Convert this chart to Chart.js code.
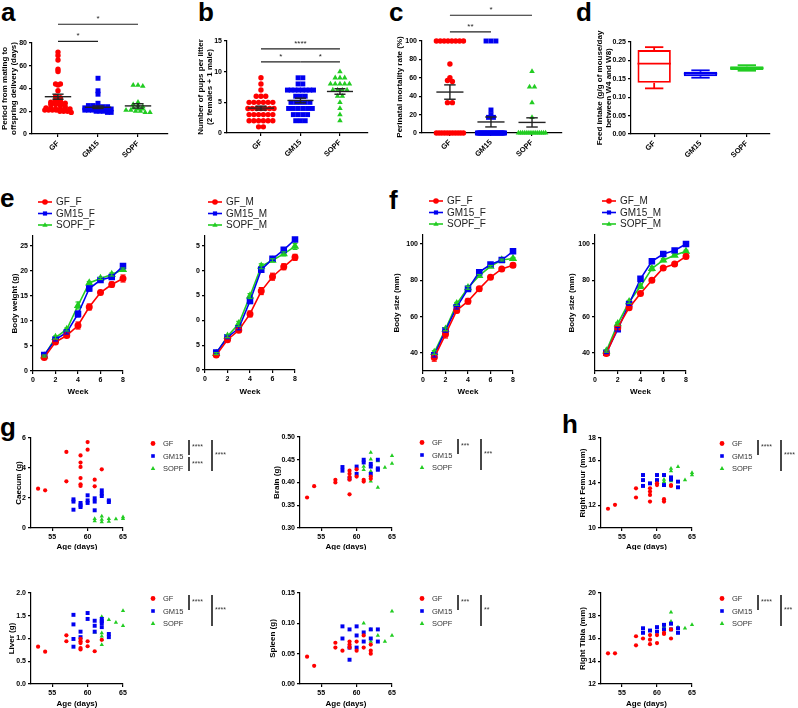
<!DOCTYPE html>
<html>
<head>
<meta charset="utf-8">
<script src="https://cdn.jsdelivr.net/npm/chart.js@4.4.1/dist/chart.umd.min.js"></script>
<style>
html, body { margin: 0; padding: 0; background: #fff; }
#fig { position: relative; width: 798px; height: 708px; overflow: hidden; font-family: "Liberation Sans", Arial, sans-serif; }
.lbl { position: absolute; font-weight: bold; font-size: 26px; line-height: 26px; color: #000; }
canvas { position: absolute; }
</style>
</head>
<body>
<div id="fig">
  <div class="lbl" style="left:1px;top:-1px">a</div>
  <div class="lbl" style="left:198px;top:-1px">b</div>
  <div class="lbl" style="left:389px;top:-1px">c</div>
  <div class="lbl" style="left:576px;top:-1px">d</div>
  <div class="lbl" style="left:0px;top:185px">e</div>
  <div class="lbl" style="left:389px;top:187px">f</div>
  <div class="lbl" style="left:0px;top:414px">g</div>
  <div class="lbl" style="left:562px;top:411px">h</div>
</div>
<script>
// ================= DATA =================
const groups = ["GF", "GM15", "SOPF"];

// a - period from mating to delivery (days)
const periodGF = [72,69,65,57,55,44,44,43,38,33,32,30,29,28,28,27,27,26,26,25,24,23,23,22,22,22,22,21,21,21,21,20,20,20,19];
const periodGM15 = [49,38,35,27,25,25,24,24,24,23,23,23,22,22,22,22,21,21,21,20,20,20,19,19];
const periodSOPF = [43,43,42,28,26,25,24,23,22,22,21,21,20,20,19,19];
const periodMean = [32.8, 23.5, 24.7];
const periodSem = [2.2, 1.1, 1.9];
const periodTicks = [0, 20, 40, 60, 80];

// b - pups per litter
const pupsGF = [9,8,7,6,6,6,5,5,5,5,5,5,4,4,4,4,4,4,4,3,3,3,3,3,3,2,2,2,2,2,2,1,1];
const pupsGM15 = [9,9,8,8,7,7,7,7,7,7,7,7,6,6,6,5,5,5,5,5,4,4,4,4,4,4,3,3,3,3,2,2,2];
const pupsSOPF = [10,9,9,9,8,8,8,8,8,7,7,7,7,6,6,5,4,3,2];
const pupsMean = [4.06, 5.3, 6.77];
const pupsSem = [0.32, 0.38, 0.45];
const pupsTicks = [0, 5, 10, 15];

// c - perinatal mortality rate (%)
const mortGF = [100,100,100,100,100,100,100,100,75,60,57,56,33,33,0,0,0,0,0,0,0,0,0,0,0];
const mortGM15 = [100,100,100,25,20,17,17,0,0,0,0,0,0,0,0,0,0,0,0,0,0,0,0,0,0,0,0,0,0,0,0];
const mortSOPF = [67,50,50,33,17,0,0,0,0,0,0,0,0,0,0,0,0,0,0];
const mortMean = [44.5, 12.0, 11.5];
const mortSem = [7.8, 5.4, 5.0];
const mortTicks = [0, 20, 40, 60, 80, 100];

// d - feed intake box plot
const feedMin = [0.124, 0.153, 0.172];
const feedQ1 = [0.139, 0.157, 0.174];
const feedMedian = [0.191, 0.164, 0.179];
const feedQ3 = [0.228, 0.169, 0.184];
const feedMax = [0.236, 0.173, 0.187];
const feedTicks = [0, 0.05, 0.10, 0.15, 0.20, 0.25];

// e / f - growth curves
const weeks = [1, 2, 3, 4, 5, 6, 7, 8];
const weekTicks = [0, 2, 4, 6, 8];
const bwGF_F = [2.7, 5.8, 7.1, 9.1, 12.8, 15.7, 17.3, 18.5];
const bwGM15_F = [3.2, 6.3, 7.7, 11.4, 16.5, 18.2, 18.8, 21.0];
const bwSOPF_F = [3.0, 6.7, 8.3, 13.1, 17.6, 18.5, 19.3, 20.3];
const bwGF_M = [3.0, 6.1, 8.0, 11.3, 15.9, 18.8, 20.8, 22.7];
const bwGM15_M = [3.5, 6.6, 8.4, 13.9, 20.2, 22.4, 24.2, 26.3];
const bwSOPF_M = [3.3, 6.8, 9.3, 14.9, 20.9, 22.1, 23.4, 24.9];
const semBwF = [[0.3,0.3,0.3,0.7,0.6,0.4,0.5,0.7],[0.2,0.3,0.3,0.6,0.5,0.3,0.3,0.4],[0.2,0.3,0.3,0.7,0.3,0.2,0.3,0.3]];
const semBwM = [[0.3,0.3,0.4,0.6,0.7,0.7,0.6,0.6],[0.2,0.3,0.3,0.5,0.4,0.3,0.3,0.3],[0.2,0.3,0.5,0.5,0.5,0.3,0.4,0.6]];
const bwTicks = [0, 5, 10, 15, 20, 25];

const bsGF_F = [37.4, 50.2, 63.4, 68.5, 75.3, 81.7, 86.3, 88.3];
const bsGM15_F = [38.7, 52.4, 65.2, 75.3, 84.5, 88.7, 91.2, 96.0];
const bsSOPF_F = [40.2, 53.0, 67.0, 75.9, 82.6, 87.7, 91.2, 92.0];
const bsGF_M = [39.6, 53.9, 64.9, 72.7, 80.0, 86.8, 89.0, 93.2];
const bsGM15_M = [40.1, 53.0, 67.0, 80.8, 90.5, 94.5, 96.5, 100.0];
const bsSOPF_M = [41.0, 56.0, 68.1, 76.7, 86.5, 91.1, 93.8, 96.0];
const semBsF = [[2,2,1.2,1.5,1.3,1,0.6,1.2],[1,1,1,1.2,0.8,0.6,0.6,0.6],[1,0.8,0.8,0.8,0.6,0.5,0.5,0.6]];
const semBsM = [[0.8,1,1,1,1,0.6,0.6,1.2],[0.5,1,0.8,0.8,0.6,0.5,0.5,0.5],[0.6,0.8,0.8,1.2,1.2,0.8,0.6,0.6]];
const bsTicks = [40, 60, 80, 100];

// g / h - organs vs age [age (days), value]
const ageTicks = [55, 60, 65];
const caecumGF = [[53,2.62],[54,2.51],[57,5.07],[57,3.11],[59,4.84],[59,4.36],[59,4.07],[59,3.33],[59,2.91],[59,2.80],[60,5.73],[60,5.22],[61,3.22],[61,2.78],[62,3.91]];
const caecumGM15 = [[58,1.91],[58,1.76],[58,1.22],[59,1.67],[59,1.51],[59,1.40],[60,2.18],[60,1.84],[60,1.67],[61,1.98],[61,1.76],[61,1.18],[62,2.51],[62,2.29],[62,2.13],[63,1.84],[63,1.73]];
const caecumSOPF = [[61,0.62],[61,0.47],[62,0.78],[62,0.56],[62,0.40],[63,0.62],[63,0.44],[64,0.60],[65,0.73],[65,0.62]];
const caecumTicks = [0, 2, 4, 6];

const brainGF = [[53,0.367],[54,0.392],[57,0.406],[57,0.400],[59,0.426],[59,0.419],[59,0.412],[59,0.406],[59,0.374],[60,0.429],[60,0.413],[61,0.406],[61,0.402],[62,0.413],[62,0.408]];
const brainGM15 = [[58,0.434],[58,0.426],[59,0.409],[60,0.435],[60,0.419],[61,0.450],[61,0.444],[62,0.441],[62,0.435],[62,0.419],[63,0.450],[63,0.431],[63,0.428]];
const brainSOPF = [[61,0.435],[61,0.428],[62,0.466],[62,0.451],[62,0.425],[62,0.403],[63,0.447],[63,0.389],[64,0.433],[65,0.459],[65,0.442]];
const brainTicks = [0.30, 0.35, 0.40, 0.45, 0.50];

const femurGF = [[53,11.71],[54,12.06],[57,13.53],[57,12.71],[59,13.53],[59,13.24],[59,12.94],[59,12.35],[60,13.97],[60,13.82],[61,12.56],[61,12.35],[62,13.82],[62,13.74]];
const femurGM15 = [[58,14.71],[58,14.26],[58,13.74],[59,13.97],[60,14.71],[60,14.26],[61,14.71],[61,13.82],[62,14.50],[62,14.32],[63,14.12],[63,13.62]];
const femurSOPF = [[61,14.32],[61,14.12],[62,15.30],[62,15.06],[62,14.18],[63,15.44],[64,14.26],[65,14.91],[65,14.71]];
const femurTicks = [10, 12, 14, 16, 18];

const liverGF = [[53,0.82],[54,0.71],[57,1.07],[57,0.94],[59,0.99],[59,0.94],[59,0.90],[59,0.79],[59,0.76],[60,0.94],[60,0.83],[61,0.72],[62,0.97]];
const liverGM15 = [[58,1.52],[58,1.31],[58,0.99],[58,0.82],[59,1.15],[59,1.03],[60,1.56],[60,1.43],[61,1.39],[61,1.28],[61,1.15],[62,1.43],[62,1.38],[62,1.34],[62,1.25],[63,1.10],[63,1.03]];
const liverSOPF = [[61,1.14],[62,1.48],[62,1.12],[62,1.05],[62,0.97],[62,0.86],[63,1.41],[64,1.35],[65,1.61],[65,1.28]];
const liverTicks = [0, 0.5, 1.0, 1.5, 2.0];

const spleenGF = [[53,0.045],[54,0.030],[57,0.060],[57,0.068],[58,0.055],[59,0.070],[59,0.065],[59,0.060],[60,0.070],[60,0.055],[61,0.080],[61,0.060],[62,0.065],[62,0.050],[62,0.055]];
const spleenGM15 = [[58,0.095],[58,0.075],[59,0.090],[59,0.060],[59,0.040],[60,0.095],[60,0.080],[60,0.060],[61,0.085],[61,0.070],[62,0.090],[62,0.075],[63,0.090],[63,0.070]];
const spleenSOPF = [[61,0.100],[62,0.090],[62,0.070],[63,0.080],[64,0.070],[65,0.120],[65,0.080]];
const spleenTicks = [0, 0.05, 0.10, 0.15];

const tibiaGF = [[53,14.7],[54,14.7],[57,15.4],[57,16.2],[58,16.0],[59,16.3],[59,15.9],[59,15.5],[60,16.3],[60,15.6],[61,16.5],[61,16.4],[62,16.8],[62,16.0]];
const tibiaGM15 = [[58,16.9],[58,16.5],[59,16.7],[60,17.0],[60,16.6],[61,17.2],[61,16.8],[62,17.3],[62,16.8],[63,16.9],[63,16.5]];
const tibiaSOPF = [[61,17.0],[62,18.3],[62,17.5],[63,17.0],[64,16.9],[65,17.2]];
const tibiaTicks = [12, 14, 16, 18, 20];

// ================= STYLE =================
const FONT = '"Liberation Sans", Arial, sans-serif';
const TITLE_SIZE = 8;
const TICK_FONT = { family: FONT, size: 7, weight: "bold" };
const TITLE_FONT = { family: FONT, size: TITLE_SIZE, weight: "bold", lineHeight: 1.1 };
const RED = "#ff0000", BLUE = "#0000f0", GREEN = "#22cc22";
const COLORS = [RED, BLUE, GREEN];
const SHAPES = ["circle", "rect", "triangle"];
const fig = document.getElementById("fig");

Chart.defaults.font.family = FONT;
Chart.defaults.color = "#000";

// ================= HELPERS =================
function axis(min, max, ticks, title, fmt, extra) {
    return Object.assign({
        type: "linear", min, max,
        afterBuildTicks: s => { s.ticks = ticks.map(v => ({ value: v })); },
        ticks: { font: TICK_FONT, color: "#000", padding: 2, autoSkip: false,
                 callback: v => fmt ? fmt(v) : v },
        grid: { drawOnChartArea: false, tickLength: 3, color: "#000", lineWidth: 1.2 },
        border: { color: "#000", width: 1.2 },
        title: title ? { display: true, text: title, font: TITLE_FONT, color: "#000", padding: 0 } : { display: false }
    }, extra || {});
}

function catAxis(min, max) {
    return axis(min, max, [0, 1, 2], null, v => groups[v], {
        ticks: { font: { family: FONT, size: 7.5, weight: "bold" }, color: "#000", padding: 2,
                 minRotation: 45, maxRotation: 45, autoSkip: false, callback: v => groups[v] }
    });
}

function marker(ctx, shape, x, y, r, color) {
    ctx.fillStyle = color;
    ctx.beginPath();
    if (shape === "circle") ctx.arc(x, y, r, 0, Math.PI * 2);
    else if (shape === "rect") ctx.rect(x - r * 0.75, y - r * 0.75, r * 1.5, r * 1.5);
    else { ctx.moveTo(x, y - r); ctx.lineTo(x + r * 0.95, y + r * 0.6); ctx.lineTo(x - r * 0.95, y + r * 0.6); ctx.closePath(); }
    ctx.fill();
}

function seg(ctx, x1, y1, x2, y2) {
    ctx.beginPath(); ctx.moveTo(x1, y1); ctx.lineTo(x2, y2); ctx.stroke();
}

// spread points of a dot plot sideways, row by row
function swarm(vals, cat, bin, step, maxHalf) {
    const rows = {};
    vals.forEach(v => { const k = Math.round(v / bin); (rows[k] = rows[k] || []).push(v); });
    const pts = [];
    Object.values(rows).forEach(r => {
        const n = r.length;
        const dx = n > 1 ? Math.min(step, 2 * maxHalf / (n - 1)) : 0;
        r.forEach((v, i) => pts.push({ x: cat + (i - (n - 1) / 2) * dx, y: v }));
    });
    return pts;
}

function dotSets(lists, bin, step) {
    return lists.map((vals, i) => ({
        data: swarm(vals, i, bin, step, 0.33), clip: false,
        pointStyle: SHAPES[i], pointRadius: [2.7, 3.5, 3.2][i],
        backgroundColor: COLORS[i], borderColor: COLORS[i], borderWidth: 0
    }));
}

function pairSets(lists) {
    return lists.map((pts, i) => ({
        data: pts.map(p => ({ x: p[0], y: p[1] })), clip: false,
        pointStyle: SHAPES[i], pointRadius: [2.1, 2.8, 2.5][i],
        backgroundColor: COLORS[i], borderColor: COLORS[i], borderWidth: 0
    }));
}

function lineSets(lists, suffix) {
    return lists.map((vals, i) => ({
        label: groups[i] + suffix,
        data: vals.map((v, j) => ({ x: weeks[j], y: v })), clip: false,
        showLine: true, borderWidth: 1.6,
        pointStyle: SHAPES[i], pointRadius: [2.7, 3.5, 3.2][i],
        backgroundColor: COLORS[i], borderColor: COLORS[i]
    }));
}

// ================= PLUGINS =================
function meanSem(means, sems) {
    return { id: "meanSem", afterDatasetsDraw(chart) {
        const { ctx, scales: { x, y } } = chart;
        ctx.save(); ctx.strokeStyle = "#222"; ctx.lineWidth = 1.4;
        means.forEach((m, i) => {
            const cx = x.getPixelForValue(i);
            const l = x.getPixelForValue(i - 0.33), r = x.getPixelForValue(i + 0.33);
            const cl = x.getPixelForValue(i - 0.14), cr = x.getPixelForValue(i + 0.14);
            const ym = y.getPixelForValue(m), yt = y.getPixelForValue(m + sems[i]), yb = y.getPixelForValue(m - sems[i]);
            seg(ctx, l, ym, r, ym);
            seg(ctx, cx, yt, cx, yb);
            seg(ctx, cl, yt, cr, yt);
            seg(ctx, cl, yb, cr, yb);
        });
        ctx.restore();
    }};
}

function sigBars(bars) {
    return { id: "sigBars", afterDraw(chart) {
        const { ctx, scales: { x, y } } = chart;
        ctx.save(); ctx.strokeStyle = "#222"; ctx.fillStyle = "#222"; ctx.lineWidth = 1.2;
        ctx.font = "8px " + FONT; ctx.textAlign = "center"; ctx.textBaseline = "bottom";
        bars.forEach(b => {
            const yy = y.getPixelForValue(b.y), x1 = x.getPixelForValue(b.from), x2 = x.getPixelForValue(b.to);
            seg(ctx, x1, yy, x2, yy);
            ctx.fillText(b.label, (x1 + x2) / 2, yy - 1);
        });
        ctx.restore();
    }};
}

function boxWhiskers() {
    return { id: "boxWhiskers", afterDatasetsDraw(chart) {
        const { ctx, scales: { y } } = chart;
        ctx.save(); ctx.lineWidth = 1.8;
        chart.getDatasetMeta(0).data.forEach((bar, i) => {
            const x = bar.x, hw = bar.width / 2, cap = hw * 0.55;
            ctx.strokeStyle = COLORS[i];
            const ymed = y.getPixelForValue(feedMedian[i]);
            seg(ctx, x - hw, ymed, x + hw, ymed);
            const ytop = y.getPixelForValue(feedMax[i]), yq3 = y.getPixelForValue(feedQ3[i]);
            const ybot = y.getPixelForValue(feedMin[i]), yq1 = y.getPixelForValue(feedQ1[i]);
            seg(ctx, x, yq3, x, ytop); seg(ctx, x - cap, ytop, x + cap, ytop);
            seg(ctx, x, yq1, x, ybot); seg(ctx, x - cap, ybot, x + cap, ybot);
        });
        ctx.restore();
    }};
}

function errorBars(sems) {
    return { id: "errorBars", afterDatasetsDraw(chart) {
        const { ctx, scales: { x, y } } = chart;
        ctx.save(); ctx.lineWidth = 1.2;
        chart.data.datasets.forEach((ds, i) => {
            ctx.strokeStyle = COLORS[i];
            ds.data.forEach((p, j) => {
                const px = x.getPixelForValue(p.x);
                const yt = y.getPixelForValue(p.y + sems[i][j]), yb = y.getPixelForValue(p.y - sems[i][j]);
                seg(ctx, px, yt, px, yb);
                seg(ctx, px - 2.5, yt, px + 2.5, yt);
                seg(ctx, px - 2.5, yb, px + 2.5, yb);
            });
        });
        ctx.restore();
    }};
}

function lineLegend(dx) {
    return { id: "lineLegend", afterDraw(chart) {
        const { ctx, chartArea: a } = chart;
        ctx.save(); ctx.lineWidth = 1.6;
        ctx.font = "10px " + FONT; ctx.textBaseline = "middle"; ctx.textAlign = "left";
        chart.data.datasets.forEach((ds, i) => {
            const y = a.top - 34 + i * 11.5, x = a.left + dx;
            ctx.strokeStyle = COLORS[i];
            seg(ctx, x, y, x + 14, y);
            marker(ctx, SHAPES[i], x + 7, y, 2.8, COLORS[i]);
            ctx.fillStyle = "#222";
            ctx.fillText(ds.label, x + 18, y + 0.5);
        });
        ctx.restore();
    }};
}

// short = [{from, to, label}], long = label of GF vs SOPF
function organLegend(short, long) {
    return { id: "organLegend", afterDraw(chart) {
        const { ctx, chartArea: a } = chart;
        const rowY = i => a.top + 5.5 + i * 12.5;
        ctx.save();
        ctx.font = "7.5px " + FONT; ctx.textBaseline = "middle"; ctx.textAlign = "left";
        groups.forEach((g, i) => {
            marker(ctx, SHAPES[i], a.right + 30, rowY(i), 2.4, COLORS[i]);
            ctx.fillStyle = "#333";
            ctx.fillText(g, a.right + 40, rowY(i) + 0.5);
        });
        ctx.strokeStyle = "#333"; ctx.fillStyle = "#333"; ctx.lineWidth = 1.8;
        ctx.font = "7px " + FONT;
        const top = i => i === 0 ? rowY(0) - 3.5 : rowY(i) + 1;
        const bot = i => i === 2 ? rowY(2) + 2.5 : rowY(i) - 1;
        short.forEach(s => {
            const y1 = top(s.from), y2 = bot(s.to), x = a.right + 66;
            seg(ctx, x, y1, x, y2);
            ctx.fillText(s.label, x + 3, (y1 + y2) / 2);
        });
        const y1 = top(0), y2 = bot(2), x = a.right + 89;
        seg(ctx, x, y1, x, y2);
        ctx.fillText(long, x + 3, (y1 + y2) / 2);
        ctx.restore();
    }};
}

// ================= PANEL =================
// box = canvas rect on the page, area = wanted chart area (page coords)
function panel(box, area, cfg) {
    const canvas = document.createElement("canvas");
    canvas.width = box.w; canvas.height = box.h;
    canvas.style.left = box.x + "px"; canvas.style.top = box.y + "px";
    fig.appendChild(canvas);

    const lh = TITLE_SIZE * 1.1;
    const padLeft = cfg.titleX - lh / 2 - box.x;
    const yW = area.l - box.x - padLeft;
    const xH = cfg.xTitleY ? cfg.xTitleY - area.b + lh / 2 : 36;

    cfg.scales.y.afterFit = s => { s.width = yW; };
    cfg.scales.x.afterFit = s => { s.height = xH; };

    return new Chart(canvas, {
        type: cfg.type || "scatter",
        data: { labels: cfg.labels, datasets: cfg.datasets },
        options: {
            responsive: false, animation: false, devicePixelRatio: 1,
            layout: { padding: {
                left: padLeft, top: area.t - box.y,
                right: box.x + box.w - area.r, bottom: box.y + box.h - area.b - xH
            } },
            plugins: { legend: { display: false }, tooltip: { enabled: false } },
            scales: cfg.scales
        },
        plugins: cfg.plugins || []
    });
}

// ================= TOP ROW =================
panel({ x: 0, y: 0, w: 196, h: 190 }, { l: 32, t: 43, r: 168, b: 134 }, {
    titleX: 5,
    datasets: dotSets([periodGF, periodGM15, periodSOPF], 2.5, 0.12),
    scales: {
        x: catAxis(-0.65, 2.75),
        y: axis(0, 80, periodTicks, ["Period from mating to", "offspring delivery (days)"])
    },
    plugins: [meanSem(periodMean, periodSem),
              sigBars([{ from: 0, to: 2, y: 96.5, label: "*" }, { from: 0, to: 1, y: 81.5, label: "*" }])]
});

panel({ x: 196, y: 0, w: 196, h: 190 }, { l: 227, t: 41, r: 368, b: 133 }, {
    titleX: 201,
    datasets: dotSets([pupsGF, pupsGM15, pupsSOPF], 1, 0.12),
    scales: {
        x: catAxis(-0.86, 2.71),
        y: axis(0, 15, pupsTicks, ["Number of pups per litter", "(2 females + 1 male)"])
    },
    plugins: [meanSem(pupsMean, pupsSem),
              sigBars([{ from: 0, to: 2, y: 13.7, label: "****" }, { from: 0, to: 1, y: 11.6, label: "*" },
                       { from: 1, to: 2, y: 11.6, label: "*" }])]
});

panel({ x: 392, y: 0, w: 198, h: 190 }, { l: 422, t: 41, r: 562, b: 133 }, {
    titleX: 400,
    datasets: dotSets([mortGF, mortGM15, mortSOPF], 4, 0.12),
    scales: {
        x: catAxis(-0.68, 2.73),
        y: axis(0, 100, mortTicks, "Perinatal mortality rate (%)")
    },
    plugins: [meanSem(mortMean, mortSem),
              sigBars([{ from: 0, to: 2, y: 128, label: "*" }, { from: 0, to: 1, y: 110, label: "**" }])]
});

panel({ x: 590, y: 0, w: 208, h: 190 }, { l: 631, t: 42, r: 770, b: 134 }, {
    type: "bar", titleX: 600, labels: groups,
    datasets: [{
        data: feedQ1.map((q, i) => [q, feedQ3[i]]),
        backgroundColor: "rgba(255,255,255,0)", borderColor: COLORS,
        borderWidth: 1.8, borderSkipped: false
    }],
    scales: {
        x: {
            type: "category",
            ticks: { font: { family: FONT, size: 7.5, weight: "bold" }, color: "#000", padding: 2,
                     minRotation: 45, maxRotation: 45, autoSkip: false },
            grid: { drawOnChartArea: false, offset: false, tickLength: 3, color: "#000", lineWidth: 1.2 },
            border: { color: "#000", width: 1.2 }
        },
        y: axis(0, 0.25, feedTicks, ["Feed intake (g/g of mouse/day", "between W4 and W8)"], v => v.toFixed(2))
    },
    plugins: [boxWhiskers()]
});

// ================= GROWTH (e, f) =================
const weekAxis = () => axis(0, 8, weekTicks, "Week");

panel({ x: 0, y: 195, w: 196, h: 205 }, { l: 33, t: 236, r: 123, b: 371 }, {
    titleX: 15, xTitleY: 392,
    datasets: lineSets([bwGF_F, bwGM15_F, bwSOPF_F], "_F"),
    scales: { x: weekAxis(), y: axis(0, 27, bwTicks, "Body weight (g)") },
    plugins: [errorBars(semBwF), lineLegend(5)]
});

panel({ x: 196, y: 195, w: 194, h: 205 }, { l: 205, t: 236, r: 295, b: 370 }, {
    titleX: 185, xTitleY: 392,
    datasets: lineSets([bwGF_M, bwGM15_M, bwSOPF_M], "_M"),
    scales: { x: weekAxis(), y: axis(0, 27, bwTicks, "Body weight (g)") },
    plugins: [errorBars(semBwM), lineLegend(3)]
});

panel({ x: 390, y: 195, w: 176, h: 205 }, { l: 423, t: 235, r: 513, b: 371 }, {
    titleX: 397, xTitleY: 392,
    datasets: lineSets([bsGF_F, bsGM15_F, bsSOPF_F], "_F"),
    scales: { x: weekAxis(), y: axis(30, 105, bsTicks, "Body size (mm)") },
    plugins: [errorBars(semBsF), lineLegend(6)]
});

panel({ x: 566, y: 195, w: 232, h: 205 }, { l: 595, t: 235, r: 686, b: 371 }, {
    titleX: 572, xTitleY: 392,
    datasets: lineSets([bsGF_M, bsGM15_M, bsSOPF_M], "_M"),
    scales: { x: weekAxis(), y: axis(30, 105, bsTicks, "Body size (mm)") },
    plugins: [errorBars(semBsM), lineLegend(7)]
});

// ================= ORGANS (g, h) =================
const ageAxis = () => axis(52, 65, ageTicks, "Age (days)");
const fix1 = v => v.toFixed(1), fix2 = v => v.toFixed(2);

panel({ x: 0, y: 400, w: 262, h: 150 }, { l: 31, t: 438, r: 123, b: 528 }, {
    titleX: 19, xTitleY: 547,
    datasets: pairSets([caecumGF, caecumGM15, caecumSOPF]),
    scales: { x: ageAxis(), y: axis(0, 6, caecumTicks, "Caecum (g)") },
    plugins: [organLegend([{ from: 0, to: 1, label: "****" }, { from: 1, to: 2, label: "****" }], "****")]
});

panel({ x: 262, y: 400, w: 268, h: 150 }, { l: 300, t: 437, r: 392, b: 528 }, {
    titleX: 277, xTitleY: 547,
    datasets: pairSets([brainGF, brainGM15, brainSOPF]),
    scales: { x: ageAxis(), y: axis(0.30, 0.50, brainTicks, "Brain (g)", fix2) },
    plugins: [organLegend([{ from: 0, to: 1, label: "***" }], "***")]
});

panel({ x: 530, y: 400, w: 268, h: 150 }, { l: 601, t: 438, r: 692, b: 528 }, {
    titleX: 583, xTitleY: 547,
    datasets: pairSets([femurGF, femurGM15, femurSOPF]),
    scales: { x: ageAxis(), y: axis(10, 18, femurTicks, "Right Femur (mm)") },
    plugins: [organLegend([{ from: 0, to: 1, label: "****" }], "****")]
});

panel({ x: 0, y: 550, w: 262, h: 158 }, { l: 31, t: 593, r: 123, b: 684 }, {
    titleX: 12, xTitleY: 704,
    datasets: pairSets([liverGF, liverGM15, liverSOPF]),
    scales: { x: ageAxis(), y: axis(0, 2, liverTicks, "Liver (g)", fix1) },
    plugins: [organLegend([{ from: 0, to: 1, label: "****" }], "****")]
});

panel({ x: 262, y: 550, w: 268, h: 158 }, { l: 300, t: 593, r: 392, b: 684 }, {
    titleX: 273, xTitleY: 704,
    datasets: pairSets([spleenGF, spleenGM15, spleenSOPF]),
    scales: { x: ageAxis(), y: axis(0, 0.15, spleenTicks, "Spleen (g)", fix2) },
    plugins: [organLegend([{ from: 0, to: 1, label: "***" }], "**")]
});

panel({ x: 530, y: 550, w: 268, h: 158 }, { l: 601, t: 593, r: 692, b: 684 }, {
    titleX: 583, xTitleY: 704,
    datasets: pairSets([tibiaGF, tibiaGM15, tibiaSOPF]),
    scales: { x: ageAxis(), y: axis(12, 20, tibiaTicks, "Right Tibia (mm)") },
    plugins: [organLegend([{ from: 0, to: 1, label: "****" }], "***")]
});
</script>
</body>
</html>
